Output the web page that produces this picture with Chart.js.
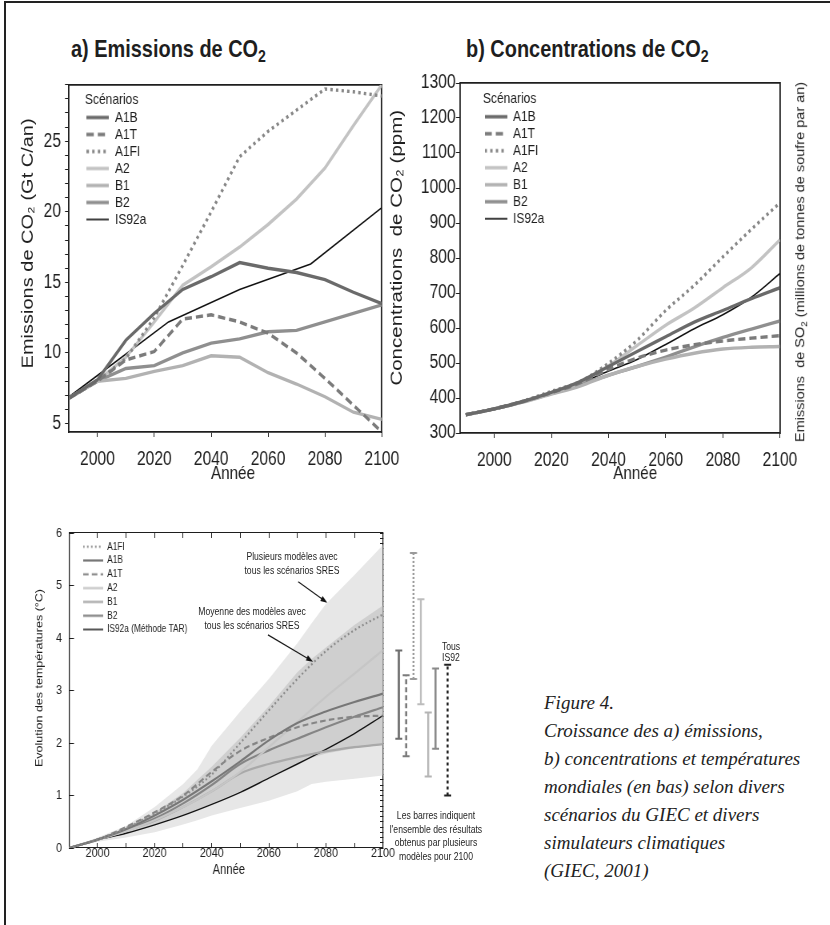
<!DOCTYPE html>
<html lang="fr">
<head>
<meta charset="utf-8">
<title>Figure 4 - GIEC 2001</title>
<script src="https://cdn.jsdelivr.net/npm/chart.js@4.4.1/dist/chart.umd.min.js"></script>
<style>
  html, body { margin: 0; padding: 0; background: #fff; }
  body { position: relative; width: 830px; height: 925px; overflow: hidden; color: #1e1e1e;
         font-family: 'Liberation Sans', Arial, sans-serif; }
  #frame { position: absolute; left: 4px; top: 1px; width: 840px; height: 940px;
           border-top: 2px solid #222; border-left: 2px solid #222; }
  /* the original figure is condensed horizontally: draw wide, then squeeze */
  canvas { position: absolute; transform: scaleX(0.8); transform-origin: 0 0; }
  .ttl { position: absolute; top: 37px; font-size: 24px; line-height: 24px; font-weight: bold; white-space: nowrap;
         transform: scaleX(0.83); transform-origin: 0 0; }
  .ttl span { font-size: 17px; position: relative; top: 5px; }
  .note { position: absolute; transform: translateX(-50%) scaleX(0.8); text-align: center; white-space: nowrap; font-size: 10.8px; }
  #so2 { position: absolute; left: 800px; top: 262px; transform: translate(-50%, -50%) rotate(-90deg) scaleY(0.85);
         font-size: 14.5px; white-space: nowrap; }
  #so2 span { font-size: 10px; position: relative; top: 3px; }
  #caption { position: absolute; left: 544px; top: 689px; font-family: 'Liberation Serif', 'DejaVu Serif', serif;
             font-style: italic; font-size: 19px; line-height: 28px; color: #222; white-space: nowrap; }
</style>
</head>
<body>
<div id="frame"></div>
<div class="ttl" style="left:71px">a) Emissions de CO<span>2</span></div>
<div class="ttl" style="left:466px">b) Concentrations de CO<span>2</span></div>

<canvas id="chartA" width="512" height="420" style="left:0;top:70px"></canvas>
<canvas id="chartB" width="556" height="420" style="left:385px;top:70px"></canvas>
<canvas id="chartC" width="600" height="380" style="left:0;top:510px"></canvas>
<canvas id="chartBars" width="100" height="380" style="left:383px;top:510px"></canvas>

<div id="so2">Emissions&nbsp; de SO<span>2</span> (millions de tonnes de soufre par an)</div>

<div class="note" style="left:292px;top:549px;line-height:14px">Plusieurs modèles avec<br>tous les scénarios SRES</div>
<div class="note" style="left:252px;top:605px;line-height:13.5px">Moyenne des modèles avec<br>tous les scénarios SRES</div>
<div class="note" style="left:451px;top:641px;line-height:11px">Tous<br>IS92</div>
<div class="note" style="left:436px;top:809px;line-height:13.6px">Les barres indiquent<br>l'ensemble des résultats<br>obtenus par plusieurs<br>modèles pour 2100</div>

<div id="caption">Figure 4.<br>Croissance des a) émissions,<br>b) concentrations et températures<br>mondiales (en bas) selon divers<br>scénarios du GIEC et divers<br>simulateurs climatiques<br>(GIEC, 2001)</div>

<script>
// ---------- data ----------
const years = [1990, 2000, 2010, 2020, 2030, 2040, 2050, 2060, 2070, 2080, 2090, 2100];
const is92Years = [1990, 2000, 2025, 2050, 2075, 2100];
const scenariosAB = ['A1B', 'A1T', 'A1FI', 'A2', 'B1', 'B2', 'IS92a'];
const scenariosC = ['A1FI', 'A1B', 'A1T', 'A2', 'B1', 'B2', 'IS92a'];

// a) emissions de CO2 (Gt C/an)
const emisA1B  = [6.8, 8.1, 10.9, 12.8, 14.5, 15.4, 16.4, 16.0, 15.7, 15.2, 14.3, 13.5];
const emisA1T  = [6.8, 8.0, 9.5, 10.1, 12.4, 12.7, 12.2, 11.4, 10.0, 8.2, 6.3, 4.4];
const emisA1FI = [6.8, 8.0, 9.6, 12.5, 16.2, 20.0, 23.9, 25.7, 27.2, 28.7, 28.5, 28.2];
const emisA2   = [6.8, 8.0, 9.7, 12.2, 14.8, 16.1, 17.5, 19.1, 20.9, 23.1, 26.1, 29.0];
const emisB1   = [6.8, 8.0, 8.2, 8.7, 9.1, 9.8, 9.7, 8.6, 7.8, 6.9, 5.8, 5.3];
const emisB2   = [6.8, 8.0, 8.9, 9.1, 10.0, 10.7, 11.0, 11.5, 11.6, 12.2, 12.8, 13.4];
const emisIS92a = [6.9, 8.4, 12.2, 14.5, 16.3, 20.3];

// b) concentrations de CO2 (ppm)
const concA1B  = [352, 369, 390, 416, 447, 490, 533, 575, 617, 650, 684, 715];
const concA1T  = [352, 369, 390, 415, 443, 482, 514, 537, 552, 563, 571, 578];
const concA1FI = [352, 369, 391, 419, 447, 499, 565, 650, 722, 803, 882, 958];
const concA2   = [352, 369, 389, 414, 445, 492, 550, 608, 657, 715, 772, 852];
const concB1   = [352, 369, 388, 411, 434, 465, 490, 511, 528, 540, 545, 547];
const concB2   = [352, 369, 389, 413, 438, 465, 490, 517, 546, 573, 597, 620];
const concIS92a = [352, 369, 390, 415, 442, 477, 510, 553, 598, 638, 688, 756];

// c) evolution des temperatures (degC)
const tempA1FI = [0, 0.16, 0.38, 0.66, 0.98, 1.40, 2.00, 2.62, 3.22, 3.75, 4.15, 4.45];
const tempA1B  = [0, 0.16, 0.36, 0.62, 0.92, 1.27, 1.65, 2.05, 2.38, 2.60, 2.78, 2.94];
const tempA1T  = [0, 0.16, 0.40, 0.68, 1.00, 1.45, 1.85, 2.10, 2.30, 2.43, 2.50, 2.52];
const tempA2   = [0, 0.16, 0.32, 0.53, 0.78, 1.08, 1.45, 1.92, 2.40, 2.88, 3.32, 3.77];
const tempB1   = [0, 0.16, 0.33, 0.52, 0.78, 1.08, 1.42, 1.60, 1.73, 1.84, 1.92, 1.98];
const tempB2   = [0, 0.16, 0.34, 0.56, 0.85, 1.20, 1.60, 1.86, 2.08, 2.30, 2.50, 2.68];
const tempIS92a = [0, 0.16, 0.28, 0.44, 0.62, 0.83, 1.06, 1.33, 1.60, 1.88, 2.18, 2.52];

// shaded envelopes
const bandYears = [1990, 2000, 2010, 2020, 2030, 2035, 2040, 2050, 2060, 2070, 2075, 2080, 2090, 2100];
const outerHigh = [0, 0.20, 0.42, 0.78, 1.22, 1.50, 1.95, 2.60, 3.22, 3.90, 4.28, 4.65, 5.20, 5.77];
const outerLow  = [0, 0.12, 0.20, 0.30, 0.45, 0.53, 0.62, 0.76, 0.90, 1.08, 1.22, 1.26, 1.32, 1.38];
const innerHigh = [0, 0.18, 0.38, 0.67, 1.05, 1.30, 1.55, 2.10, 2.70, 3.35, 3.60, 3.82, 4.25, 4.62];
const innerLow  = [0, 0.15, 0.27, 0.43, 0.62, 0.73, 0.85, 1.08, 1.35, 1.62, 1.72, 1.80, 1.90, 1.97];

// ranges for 2100 (several models)
const barNames = ['A1B', 'A1T', 'A1FI', 'A2', 'B1', 'B2', 'IS92a'];
const barLow  = [2.08, 1.75, 3.22, 2.74, 1.36, 1.89, 1.00];
const barHigh = [3.76, 3.29, 5.62, 4.74, 2.58, 3.42, 3.49];

// annotation arrows (year, degC)
const arrowsC = [
  { from: [2070.3, 5.07], to: [2080.5, 4.67] },
  { from: [2059.7, 4.06], to: [2075.5, 3.55] }
];

// ---------- styles ----------
const ink = '#1e1e1e';
const EN = '\u2002';   // en space, nudges centred axis titles like the original
Chart.defaults.font.family = "'Liberation Sans', Arial, sans-serif";
Chart.defaults.color = ink;

const lookAB = {
  A1B:   { color: '#6a6a6a', dash: [] },
  A1T:   { color: '#7b7b7b', dash: [9, 5] },
  A1FI:  { color: '#878787', dash: [3, 4] },
  A2:    { color: '#c3c3c3', dash: [] },
  B1:    { color: '#b2b2b2', dash: [] },
  B2:    { color: '#8f8f8f', dash: [] },
  IS92a: { color: '#111111', dash: [] }
};
const lookC = {
  A1FI:  { color: '#8a8a8a', dash: [2, 3] },
  A1B:   { color: '#777777', dash: [] },
  A1T:   { color: '#858585', dash: [7, 4] },
  A2:    { color: '#c6c6c6', dash: [] },
  B1:    { color: '#a9a9a9', dash: [] },
  B2:    { color: '#858585', dash: [] },
  IS92a: { color: '#111111', dash: [] }
};
const barLook = [
  { color: '#6e6e6e', dash: [] },
  { color: '#7b7b7b', dash: [5, 3] },
  { color: '#9a9a9a', dash: [2, 2] },
  { color: '#bcbcbc', dash: [] },
  { color: '#b4b4b4', dash: [] },
  { color: '#8a8a8a', dash: [] },
  { color: '#222222', dash: [3, 3] }
];

const pts = (xs, ys) => xs.map((x, i) => ({ x, y: ys[i] }));
const plain = v => String(v);

function lineSet(name, xs, ys, st, width, smooth) {
  return {
    label: name, data: pts(xs, ys),
    borderColor: st.color, backgroundColor: st.color,
    borderWidth: width, borderDash: st.dash,
    pointRadius: 0, pointHoverRadius: 0, fill: false,
    tension: 0, cubicInterpolationMode: smooth ? 'monotone' : 'default',
    xAxisID: 'x', yAxisID: 'y'
  };
}

// little line sample (keeps the dash pattern) used as legend symbol
function swatch(color, width, dash, w) {
  const c = document.createElement('canvas');
  c.width = w;
  c.height = Math.ceil(width) + 2;
  const g = c.getContext('2d');
  g.strokeStyle = color;
  g.lineWidth = width;
  g.setLineDash(dash || []);
  g.beginPath();
  g.moveTo(0, c.height / 2);
  g.lineTo(w, c.height / 2);
  g.stroke();
  return c;
}
const swatchLabels = w => chart =>
  Chart.defaults.plugins.legend.labels.generateLabels(chart).map(it => {
    const ds = chart.data.datasets[it.datasetIndex];
    it.pointStyle = swatch(ds.borderColor, ds.borderWidth || 1, ds.borderDash, w);
    return it;
  });

// put the in-plot legend at an offset from the plot corner
const legendShift = {
  id: 'legendShift',
  afterLayout(chart, args, opts) {
    if (!chart.legend) return;
    chart.legend.left = chart.chartArea.left + (opts.dx || 0);
    chart.legend.top = chart.chartArea.top + (opts.dy || 0);
  }
};

const arrowPlugin = {
  id: 'arrows',
  afterDatasetsDraw(chart) {
    const { ctx } = chart;
    const sx = chart.scales.x, sy = chart.scales.y;
    ctx.save();
    ctx.strokeStyle = ctx.fillStyle = '#111';
    ctx.lineWidth = 1.2;
    arrowsC.forEach(a => {
      const x1 = sx.getPixelForValue(a.from[0]), y1 = sy.getPixelForValue(a.from[1]);
      const x2 = sx.getPixelForValue(a.to[0]), y2 = sy.getPixelForValue(a.to[1]);
      const ang = Math.atan2(y2 - y1, x2 - x1);
      ctx.beginPath();
      ctx.moveTo(x1, y1);
      ctx.lineTo(x2 - 5 * Math.cos(ang), y2 - 5 * Math.sin(ang));
      ctx.stroke();
      ctx.beginPath();
      ctx.moveTo(x2, y2);
      ctx.lineTo(x2 - 9 * Math.cos(ang - 0.33), y2 - 9 * Math.sin(ang - 0.33));
      ctx.lineTo(x2 - 9 * Math.cos(ang + 0.33), y2 - 9 * Math.sin(ang + 0.33));
      ctx.closePath();
      ctx.fill();
    });
    ctx.restore();
  }
};

function legendAB() {
  return {
    position: 'chartArea', align: 'start',
    title: { display: true, text: 'Scénarios', position: 'start', color: ink,
             font: { size: 15, lineHeight: 1 }, padding: { top: 1.5, bottom: 0.7 } },
    labels: { usePointStyle: true, pointStyleWidth: 28, padding: 2,
              color: ink, font: { size: 15 }, generateLabels: swatchLabels(28) }
  };
}

// plain frame axis (top / right) with no ticks
function frameAxis(position, min, max, width) {
  const horiz = position === 'top' || position === 'bottom';
  return {
    type: 'linear', position, min, max,
    afterFit: s => { if (horiz) s.height = 0; else s.width = 0; },
    border: { color: ink, width },
    grid: { display: false, drawOnChartArea: false, drawTicks: false },
    ticks: { display: false }
  };
}

const common = { responsive: false, animation: false, events: [] };
const tickFontAB = { size: 19.5, lineHeight: 1 };

// ---------- a) emissions ----------
const emissions = { A1B: emisA1B, A1T: emisA1T, A1FI: emisA1FI, A2: emisA2, B1: emisB1, B2: emisB2 };
new Chart(document.getElementById('chartA'), {
  type: 'line',
  data: {
    datasets: scenariosAB.map(s => s === 'IS92a'
      ? lineSet(s, is92Years, emisIS92a, lookAB[s], 1.6, false)
      : lineSet(s, years, emissions[s], lookAB[s], 3.4, false))
  },
  options: {
    ...common,
    layout: { padding: { left: 6.25, top: 14, right: 33.25, bottom: 0 } },
    plugins: { tooltip: { enabled: false }, legend: legendAB(), legendShift: { dx: 20, dy: 6 } },
    scales: {
      x: {
        type: 'linear', position: 'bottom', min: 1990, max: 2100,
        afterFit: s => { s.height = 58; },
        border: { color: ink, width: 1.7 },
        grid: { drawOnChartArea: false, tickLength: 5, color: ink },
        ticks: { stepSize: 20, autoSkip: false, includeBounds: false, maxRotation: 0, padding: 13,
                 color: ink, font: tickFontAB, callback: plain },
        title: { display: true, text: EN.repeat(2) + 'Année', color: ink, font: { size: 19, lineHeight: 1 },
                 padding: { top: 0, bottom: 6.5 } }
      },
      y: {
        type: 'linear', position: 'left', min: 4.4, max: 29,
        afterFit: s => { s.width = 80; },
        border: { color: ink, width: 1.8 },
        grid: { drawOnChartArea: false, tickLength: 5, color: ink },
        ticks: { stepSize: 1, autoSkip: false, includeBounds: false, padding: 5, color: ink, font: tickFontAB,
                 callback: v => (v % 5 === 0 ? String(v) : '') },
        title: { display: true, text: EN.repeat(3) + 'Emissions de CO₂ (Gt C/an)', color: ink,
                 font: { size: 20, lineHeight: 1 }, padding: { top: 18.75, bottom: 0 } }
      },
      x2: frameAxis('top', 1990, 2100, 1.7),
      y2: frameAxis('right', 4.4, 29, 1.8)
    }
  },
  plugins: [legendShift]
});

// ---------- b) concentrations ----------
const concentrations = { A1B: concA1B, A1T: concA1T, A1FI: concA1FI, A2: concA2, B1: concB1, B2: concB2, IS92a: concIS92a };
new Chart(document.getElementById('chartB'), {
  type: 'line',
  data: {
    datasets: scenariosAB.map(s => lineSet(s, years, concentrations[s], lookAB[s], s === 'IS92a' ? 1.6 : 3.4, true))
  },
  options: {
    ...common,
    layout: { padding: { left: 0, top: 13, right: 62.25, bottom: 0 } },
    plugins: { tooltip: { enabled: false }, legend: legendAB(), legendShift: { dx: 28.75, dy: 7 } },
    scales: {
      x: {
        type: 'linear', position: 'bottom', min: 1988, max: 2100,
        afterFit: s => { s.height = 57; },
        border: { color: ink, width: 1.7 },
        grid: { drawOnChartArea: false, tickLength: 5, color: ink },
        ticks: { stepSize: 20, autoSkip: false, includeBounds: false, maxRotation: 0, padding: 13,
                 color: ink, font: tickFontAB, callback: plain },
        title: { display: true, text: EN.repeat(4) + 'Année', color: ink, font: { size: 19, lineHeight: 1 },
                 padding: { top: 0, bottom: 6.5 } }
      },
      y: {
        type: 'linear', position: 'left', min: 300, max: 1300,
        afterFit: s => { s.width = 93.75; },
        border: { color: ink, width: 1.8 },
        grid: { drawOnChartArea: false, tickLength: 5, color: ink },
        ticks: { stepSize: 100, autoSkip: false, padding: 0.5, color: ink, font: tickFontAB, callback: plain },
        title: { display: true, text: EN.repeat(2) + 'Concentrations  de CO₂ (ppm)', color: ink,
                 font: { size: 20.5, lineHeight: 1 }, padding: { top: 5.3, bottom: 0 } }
      },
      x2: frameAxis('top', 1988, 2100, 1.7),
      y2: frameAxis('right', 300, 1300, 1.8)
    }
  },
  plugins: [legendShift]
});

// ---------- c) temperatures ----------
const temperatures = { A1FI: tempA1FI, A1B: tempA1B, A1T: tempA1T, A2: tempA2, B1: tempB1, B2: tempB2, IS92a: tempIS92a };
const labelC = s => (s === 'IS92a' ? 'IS92a (Méthode TAR)' : s);
const bandSet = (name, ys, fillColor) => ({
  label: name, data: pts(bandYears, ys),
  borderColor: 'rgba(0,0,0,0)', borderWidth: 0, backgroundColor: fillColor,
  pointRadius: 0, pointHoverRadius: 0, tension: 0,
  fill: fillColor ? '+1' : false, xAxisID: 'x', yAxisID: 'y'
});
const tickFontC = { size: 13.5, lineHeight: 1 };

new Chart(document.getElementById('chartC'), {
  type: 'line',
  data: {
    datasets: [
      ...scenariosC.map(s => lineSet(labelC(s), years, temperatures[s], lookC[s], s === 'IS92a' ? 1.4 : 2.2, true)),
      bandSet('moyenne haut', innerHigh, '#cfcfcf'),
      bandSet('moyenne bas', innerLow, null),
      bandSet('plusieurs haut', outerHigh, '#e7e7e7'),
      bandSet('plusieurs bas', outerLow, null)
    ]
  },
  options: {
    ...common,
    layout: { padding: { left: 0, top: 23, right: 121.25, bottom: 0 } },
    plugins: {
      tooltip: { enabled: false },
      legend: {
        position: 'chartArea', align: 'start',
        labels: { usePointStyle: true, pointStyleWidth: 25, padding: 3.4, color: ink, font: { size: 10.4 },
                  generateLabels: swatchLabels(25), filter: it => it.datasetIndex < 7 }
      },
      legendShift: { dx: 14.1, dy: 5.1 }
    },
    scales: {
      x: {
        type: 'linear', position: 'bottom', min: 1990, max: 2100,
        afterFit: s => { s.height = 42; },
        border: { color: ink, width: 1.1 },
        grid: { drawOnChartArea: false, tickLength: -5, color: ink },
        ticks: { stepSize: 10, autoSkip: false, maxRotation: 0, padding: 4, color: ink, font: tickFontC,
                 callback: v => (v >= 2000 && v % 20 === 0 ? String(v) : '') },
        title: { display: true, text: EN + 'Année', color: ink, font: { size: 14, lineHeight: 1 },
                 padding: { top: 0, bottom: 13 } }
      },
      y: {
        type: 'linear', position: 'left', min: 0, max: 6,
        afterFit: s => { s.width = 86.25; },
        border: { color: ink, width: 1.3 },
        grid: { drawOnChartArea: false, tickLength: -6.25, color: ink },
        ticks: { stepSize: 1, autoSkip: false, padding: 15, color: ink, font: tickFontC, callback: plain },
        title: { display: true, text: EN.repeat(4) + 'Evolution des températures (°C)', color: ink,
                 font: { size: 12.5, lineHeight: 1 }, padding: { top: 43.75, bottom: 0 } }
      },
      x2: {
        type: 'linear', position: 'top', min: 1990, max: 2100,
        afterFit: s => { s.height = 0; },
        border: { color: ink, width: 1.1 },
        grid: { drawOnChartArea: false, tickLength: -5, color: ink },
        ticks: { stepSize: 10, autoSkip: false, display: false }
      },
      y2: {
        type: 'linear', position: 'right', min: 0, max: 6,
        afterFit: s => { s.width = 0; },
        border: { color: ink, width: 1.3 },
        grid: { drawOnChartArea: false, tickLength: -3.75, color: ink },
        ticks: { stepSize: 0.1, autoSkip: false, display: false }
      }
    }
  },
  plugins: [legendShift, arrowPlugin]
});

// ---------- ranges for 2100, right of panel c ----------
const pxPerYear = 314 / 110;            // page pixels per year in panel c
const barX = i => 2104.3 + i * 2.95 + (i === 6 ? 1.9 : 0);
new Chart(document.getElementById('chartBars'), {
  type: 'line',
  data: {
    datasets: barNames.map((name, i) => ({
      label: name,
      data: [{ x: barX(i), y: barLow[i] }, { x: barX(i), y: barHigh[i] }],
      borderColor: barLook[i].color, borderDash: barLook[i].dash, borderWidth: 2.5,
      pointStyle: 'line', pointRadius: 4.4, pointBorderWidth: 2,
      pointBorderColor: barLook[i].color, pointBackgroundColor: barLook[i].color,
      fill: false, tension: 0
    }))
  },
  options: {
    ...common,
    layout: { padding: { left: 0, top: 23, right: 0, bottom: 42 } },
    plugins: { tooltip: { enabled: false }, legend: { display: false } },
    scales: {
      x: { type: 'linear', display: false, min: 2100, max: 2100 + 80 / pxPerYear },
      y: { type: 'linear', display: false, min: 0, max: 6 }
    }
  }
});
</script>
</body>
</html>
